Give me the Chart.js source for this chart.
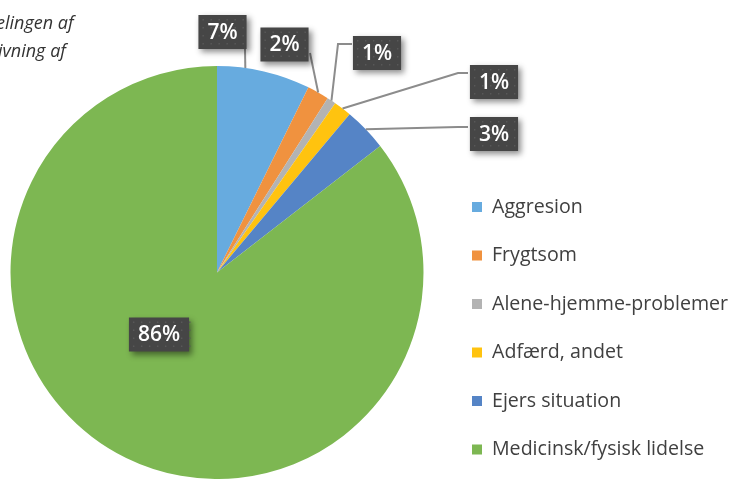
<!DOCTYPE html>
<html>
<head>
<meta charset="utf-8">
<script src="https://cdn.jsdelivr.net/npm/chart.js@4"></script>
<style>
  html, body { margin: 0; padding: 0; background: #fff; }
  #wrap { position: relative; width: 732px; height: 479px; overflow: hidden; }
  .title { position: absolute; font: italic 18px "Open Sans", sans-serif; color: #333; white-space: nowrap; }
</style>
</head>
<body>
<div id="wrap">
  <canvas id="myChart" width="732" height="479"></canvas>
  <div class="title" style="left:-4px; top:10px;">elingen af</div>
  <div class="title" style="left:-2px; top:38px;">ivning af</div>
</div>
<script>
const categories = ['Aggresion', 'Frygtsom', 'Alene-hjemme-problemer', 'Adfærd, andet', 'Ejers situation', 'Medicinsk/fysisk lidelse'];
const shares = [7.3, 1.7, 0.7, 1.4, 3.4, 85.5];
const pctLabels = ['7%', '2%', '1%', '1%', '3%', '86%'];
const colors = ['#67abdf', '#f0923f', '#b3b3b3', '#ffc30f', '#5584c6', '#7db752'];

// label box centres and leader elbows (layout only)
const labelLayout = [
  {cx: 222.5, cy: 32, t: 0.3, path: [[245, 49]]},
  {cx: 284.5, cy: 44.5, t: 0.5, path: [[310, 53]]},
  {cx: 377, cy: 53, t: 0.5, path: [[338, 44], [352, 44]]},
  {cx: 494, cy: 82, t: 0.5, path: [[458, 73], [468, 73]]},
  {cx: 494, cy: 134, t: 0.5, path: [[458, 127], [468, 127]]},
  {cx: 159, cy: 334.5, t: 0.5, path: null}
];

const labelPlugin = {
  id: 'pieLabels',
  afterDatasetsDraw(chart) {
    const ctx = chart.ctx;
    const arcs = chart.getDatasetMeta(0).data;
    ctx.save();
    // leader lines
    ctx.strokeStyle = '#8c8c8c';
    ctx.lineWidth = 2;
    arcs.forEach((arc, i) => {
      const lay = labelLayout[i];
      if (!lay.path) return;
      const a = arc.startAngle + (arc.endAngle - arc.startAngle) * lay.t;
      const px = arc.x + Math.cos(a) * arc.outerRadius;
      const py = arc.y + Math.sin(a) * arc.outerRadius;
      ctx.beginPath();
      ctx.moveTo(px, py);
      lay.path.forEach(p => ctx.lineTo(p[0], p[1]));
      ctx.stroke();
    });
    // boxes
    ctx.font = '600 21px "Open Sans", sans-serif';
    ctx.textAlign = 'center';
    ctx.textBaseline = 'middle';
    pctLabels.forEach((txt, i) => {
      const lay = labelLayout[i];
      const w = ctx.measureText(txt).width + 18;
      const h = 34;
      const x = lay.cx - w / 2, y = lay.cy - h / 2;
      ctx.save();
      ctx.shadowColor = 'rgba(0,0,0,0.45)';
      ctx.shadowBlur = 6;
      ctx.shadowOffsetX = 3;
      ctx.shadowOffsetY = 3;
      ctx.fillStyle = '#464646';
      ctx.fillRect(x, y, w, h);
      ctx.restore();
      ctx.fillStyle = '#585858';
      for (let dy = 4; dy < h; dy += 8) {
        for (let dx = 4; dx < w; dx += 8) {
          ctx.fillRect(x + dx, y + dy, 1.5, 1.5);
        }
      }
      ctx.fillStyle = '#ffffff';
      ctx.fillText(txt, lay.cx, lay.cy + 1);
    });
    // legend
    ctx.font = '19.6px "Open Sans", sans-serif';
    ctx.textAlign = 'left';
    categories.forEach((name, i) => {
      const y = 207 + i * 48.5;
      ctx.fillStyle = colors[i];
      ctx.fillRect(472, y - 5, 10, 10);
      ctx.fillStyle = '#404040';
      ctx.fillText(name, 492, y);
    });
    ctx.restore();
  }
};

new Chart(document.getElementById('myChart'), {
  type: 'pie',
  data: {
    labels: categories,
    datasets: [{
      data: shares,
      backgroundColor: colors,
      borderWidth: 0
    }]
  },
  options: {
    responsive: false,
    animation: false,
    layout: {padding: {left: 10, top: 66, right: 308, bottom: 0}},
    plugins: {
      legend: {display: false},
      tooltip: {enabled: false}
    }
  },
  plugins: [labelPlugin]
});
</script>
</body>
</html>
